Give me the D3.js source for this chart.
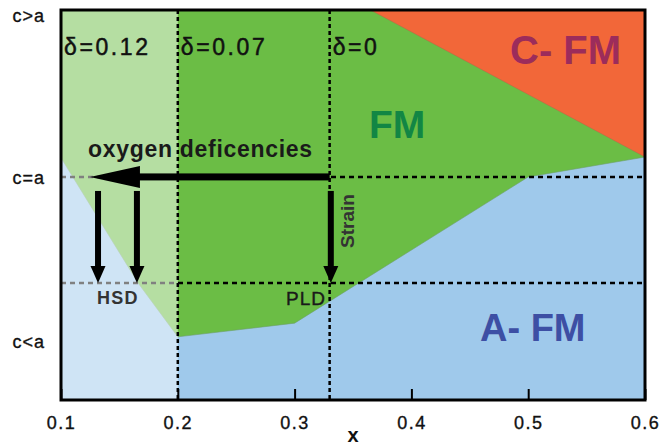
<!DOCTYPE html>
<html>
<head>
<meta charset="utf-8">
<script src="https://cdn.jsdelivr.net/npm/d3@7"></script>
<style>
  body { margin: 0; background: #fff; }
  svg { display: block; font-family: "Liberation Sans", Arial, sans-serif; }
</style>
</head>
<body>
<svg id="chart" width="664" height="448"></svg>
<script>
// ---- data ----
const xTicks = [0.1, 0.2, 0.3, 0.4, 0.5, 0.6];
const yLevels = [0.985, 0.57, 0.15];
const yLabels = ["c>a", "c=a", "c<a"];
// boundary between FM (above) and A-FM (below)
const fmLowerBoundary = [[0.1, 0.621], [0.166, 0.300], [0.2, 0.162], [0.3, 0.197], [0.5, 0.572], [0.6, 0.623]];
// boundary between FM and C-FM
const cfmBoundary = [[0.365, 1.0], [0.6, 0.623]];
const guideY = [0.572, 0.300];        // c=a and film-level dashed lines
const guideX = [0.2, 0.33];           // delta boundaries
const deltaX = [0.1, 0.2, 0.33];
const deltaLabels = ["δ=0.12", "δ=0.07", "δ=0"];
const overlayRange = [0.1, 0.2];      // washed-out region (HSD)
// arrows: [x1, y1, x2, y2]
const bigArrow = [0.33, 0.572, 0.1248, 0.572];
const downArrows = [[0.1317, 0.536, 0.1317, 0.300], [0.165, 0.536, 0.165, 0.300], [0.331, 0.536, 0.331, 0.300]];

// ---- layout ----
const svg = d3.select("#chart");
const L = 61, T = 10, R = 645, B = 400;
const x = d3.scaleLinear().domain([0.1, 0.6]).range([L, R]);
const y = d3.scaleLinear().domain([0, 1]).range([B, T]);
const line = d3.line().x(d => x(d[0])).y(d => y(d[1]));

// background A-FM
svg.append("rect").attr("x", L).attr("y", T).attr("width", R - L).attr("height", B - T).attr("fill", "#9fc9eb");
// FM region
const fmPoly = [[0.1, 1], [0.6, 1]].concat(fmLowerBoundary.slice().reverse());
svg.append("path").attr("d", line(fmPoly) + "Z").attr("fill", "#6bbd45")
  .attr("stroke", "#6f9f6a").attr("stroke-width", 0.6);
// C-FM region
const cPoly = cfmBoundary.concat([[0.6, 1]]);
svg.append("path").attr("d", line(cPoly) + "Z").attr("fill", "#f26739")
  .attr("stroke", "#b5674a").attr("stroke-width", 0.5);

// horizontal dashed guides (under overlay)
svg.selectAll("line.gy").data(guideY).join("line")
  .attr("x1", L).attr("x2", R).attr("y1", d => y(d)).attr("y2", d => y(d))
  .attr("stroke", "#000").attr("stroke-width", 2.5).attr("stroke-dasharray", "5,4");

// white overlay
svg.append("rect").attr("x", x(overlayRange[0])).attr("y", T)
  .attr("width", x(overlayRange[1]) - x(overlayRange[0])).attr("height", B - T)
  .attr("fill", "#fff").attr("opacity", 0.5);

// vertical dashed guides
svg.selectAll("line.gx").data(guideX).join("line")
  .attr("x1", d => x(d)).attr("x2", d => x(d)).attr("y1", T).attr("y2", B)
  .attr("stroke", "#000").attr("stroke-width", 2.5).attr("stroke-dasharray", "4,3");

// arrows
function hArrow(a) {
  const x1 = x(a[0]), x2 = x(a[2]), yy = y(a[1]);
  const headL = 50, headH = 11, shaft = 7;
  svg.append("rect").attr("x", x2 + headL - 1).attr("y", yy - shaft / 2)
    .attr("width", x1 - x2 - headL + 1).attr("height", shaft).attr("fill", "#000");
  svg.append("path").attr("d", `M${x2},${yy}L${x2 + headL},${yy - headH}L${x2 + headL},${yy + headH}Z`).attr("fill", "#000");
}
function vArrow(a) {
  const xx = x(a[0]), y1 = y(a[1]), y2 = y(a[3]);
  const headL = 17, headW = 7.5, shaft = 6;
  svg.append("rect").attr("x", xx - shaft / 2).attr("y", y1)
    .attr("width", shaft).attr("height", y2 - y1 - headL + 1).attr("fill", "#000");
  svg.append("path").attr("d", `M${xx},${y2}L${xx - headW},${y2 - headL}L${xx + headW},${y2 - headL}Z`).attr("fill", "#000");
}
hArrow(bigArrow);
downArrows.forEach(vArrow);

// texts
svg.selectAll("text.delta").data(deltaX).join("text")
  .attr("x", d => x(d) + 3).attr("y", 55)
  .attr("font-size", 23).attr("letter-spacing", 2.6).attr("fill", "#111")
  .attr("stroke", "#111").attr("stroke-width", 0.5)
  .text((d, i) => deltaLabels[i]);

svg.append("text").attr("x", 510).attr("y", 64).attr("font-size", 40).attr("font-weight", "bold")
  .attr("fill", "#9c2c5b").text("C- FM");
svg.append("text").attr("x", 369).attr("y", 138).attr("font-size", 39).attr("font-weight", "bold")
  .attr("fill", "#128644").text("FM");
svg.append("text").attr("x", 480).attr("y", 341).attr("font-size", 38).attr("font-weight", "bold")
  .attr("fill", "#3d4fa4").text("A- FM");

svg.append("text").attr("x", 88).attr("y", 157).attr("font-size", 23).attr("font-weight", "bold")
  .attr("letter-spacing", 0.7).attr("fill", "#1a1a1a").text("oxygen deficencies");

svg.append("text").attr("transform", `translate(354,248) rotate(-90)`)
  .attr("font-size", 19).attr("font-weight", "bold").attr("fill", "#333").text("Strain");

svg.append("text").attr("x", 97).attr("y", 304).attr("font-size", 18).attr("font-weight", "bold")
  .attr("letter-spacing", 1.2).attr("fill", "#333").text("HSD");
svg.append("text").attr("x", 286).attr("y", 305).attr("font-size", 19)
  .attr("letter-spacing", 1).attr("fill", "#1a1a1a").attr("stroke", "#1a1a1a").attr("stroke-width", 0.4).text("PLD");

// axes
const xAxis = d3.axisBottom(x).tickValues(xTicks).tickSize(-11).tickPadding(16).tickFormat(d3.format(".1f"));
const gx = svg.append("g").attr("transform", `translate(0,${B})`).call(xAxis);
gx.select(".domain").remove();
gx.selectAll(".tick line").attr("stroke", "#000").attr("stroke-width", 2);
gx.selectAll("text").attr("font-size", 18).attr("letter-spacing", 1.5).attr("fill", "#111")
  .attr("stroke", "#111").attr("stroke-width", 0.35)
  .attr("font-family", "'Liberation Sans', Arial, sans-serif");

const yAxis = d3.axisLeft(y).tickValues(yLevels).tickSize(0).tickPadding(16).tickFormat((d, i) => yLabels[i]);
const gy = svg.append("g").attr("transform", `translate(${L},0)`).call(yAxis);
gy.select(".domain").remove();
gy.selectAll("text").attr("font-size", 18).attr("letter-spacing", 1).attr("fill", "#111")
  .attr("stroke", "#111").attr("stroke-width", 0.35)
  .attr("font-family", "'Liberation Sans', Arial, sans-serif");

svg.append("text").attr("x", (L + R) / 2).attr("y", 442).attr("text-anchor", "middle")
  .attr("font-size", 20).attr("font-weight", "bold").attr("fill", "#111").text("x");

// frame
svg.append("rect").attr("x", L).attr("y", T).attr("width", R - L).attr("height", B - T)
  .attr("fill", "none").attr("stroke", "#000").attr("stroke-width", 3);
</script>
</body>
</html>
